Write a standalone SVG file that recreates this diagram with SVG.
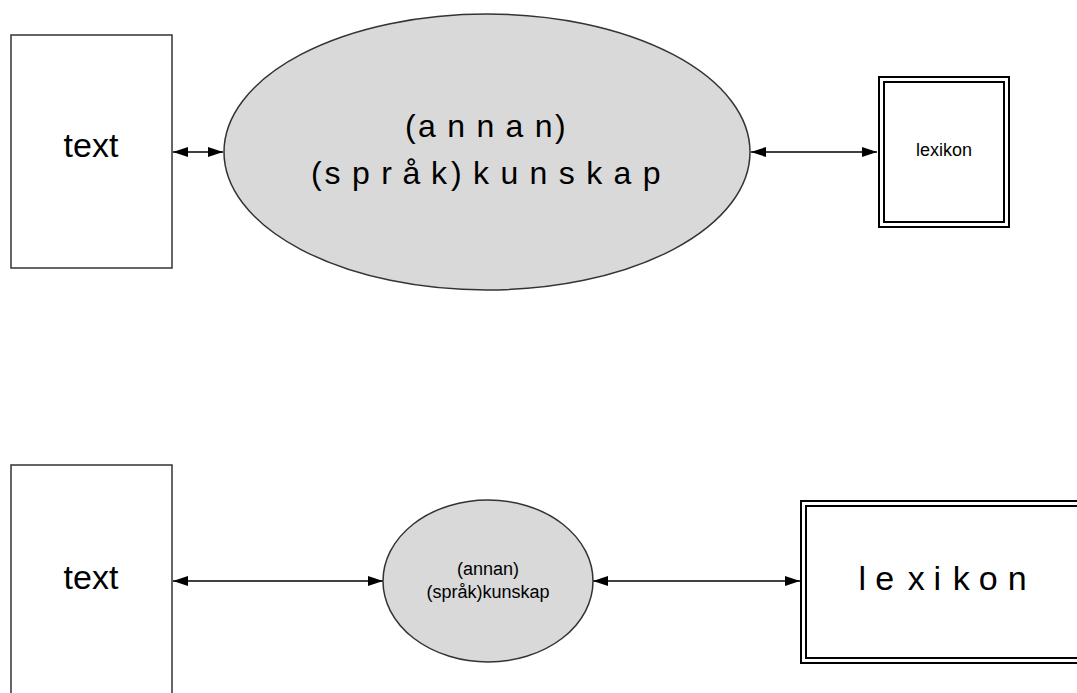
<svg xmlns="http://www.w3.org/2000/svg" width="1077" height="693" viewBox="0 0 1077 693">
<defs>
<style>
.box{fill:#fff;stroke:#333;stroke-width:1.5}
.dbl{fill:#fff;stroke:#000;stroke-width:2}
.ell{fill:#d9d9d9;stroke:#333;stroke-width:1.5}
.lbl{font-family:"Liberation Sans",Arial,sans-serif;fill:#000;text-anchor:middle}
.lbs{font-family:"Liberation Sans",Arial,sans-serif;fill:#000;text-anchor:start}
.edge{stroke:#000;stroke-width:1.3;fill:none;marker-start:url(#ah);marker-end:url(#ah)}
</style>
<marker id="ah" viewBox="0 0 15 10" refX="15" refY="5" markerWidth="15" markerHeight="10" markerUnits="userSpaceOnUse" orient="auto-start-reverse">
<path d="M0,0L15,5L0,10z" fill="#000"/>
</marker>
</defs>
<rect width="1077" height="693" fill="#fff"/>
<g id="connectors">
<line class="edge" x1="173" y1="152" x2="223" y2="152"/>
<line class="edge" x1="751" y1="152" x2="877" y2="152"/>
<line class="edge" x1="173" y1="581" x2="383" y2="581"/>
<line class="edge" x1="593" y1="581" x2="800" y2="581"/>
</g>
<g id="text1">
<rect class="box" x="11" y="35" width="161" height="233"/>
<text class="lbl" x="91" y="157" font-size="34">text</text>
</g>
<g id="kunskap1">
<ellipse class="ell" cx="487" cy="152" rx="263" ry="138"/>
<text class="lbs" x="405 418 447.2 476.4 505.6 534.8 555" y="137" font-size="32">(annan)</text>
<text class="lbs" x="311 324.5 352 381.2 402.5 431 451 473 500.4 529.6 558.8 586.2 613.6 642.8" y="184" font-size="32">(språk)kunskap</text>
</g>
<g id="lexikon1">
<rect class="dbl" x="879" y="77" width="130" height="150"/>
<rect class="dbl" x="884" y="82" width="120" height="140"/>
<text class="lbl" x="944" y="156" font-size="18">lexikon</text>
</g>
<g id="text2">
<rect class="box" x="11" y="465" width="161" height="240"/>
<text class="lbl" x="91" y="589" font-size="34">text</text>
</g>
<g id="kunskap2">
<ellipse class="ell" cx="488" cy="581" rx="105" ry="81"/>
<text class="lbl" x="488" y="575" font-size="18">(annan)</text>
<text class="lbl" x="488" y="598" font-size="18">(språk)kunskap</text>
</g>
<g id="lexikon2">
<rect class="dbl" x="801" y="501" width="300" height="162"/>
<rect class="dbl" x="806" y="506" width="290" height="152"/>
<text class="lbs" x="858.5 875.3 907.7 933.4 952.7 978.8 1007.7" y="590" font-size="34">lexikon</text>
</g>
</svg>
